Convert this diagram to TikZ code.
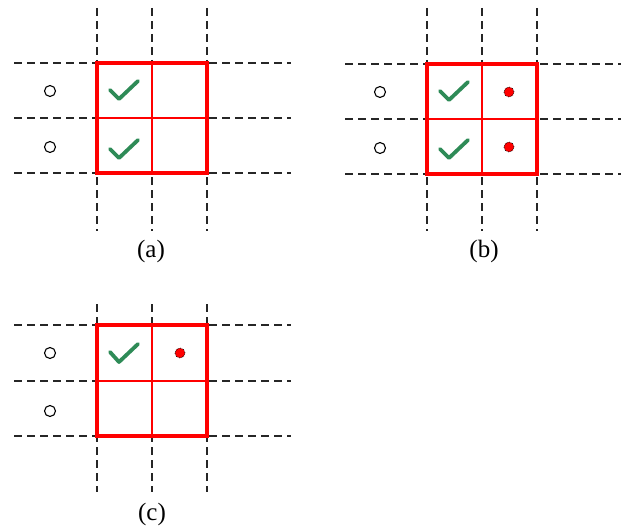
\documentclass[tikz,border=0pt]{standalone}
\usepackage{fontspec}
\setmainfont{Liberation Serif}
\begin{document}
\begin{tikzpicture}[x=1pt,y=-1pt,
  gridline/.style={black!85,line width=1.1pt,dash pattern=on 8pt off 5pt},
  frame/.style={red,line width=3.6pt,line join=miter},
  inner/.style={red,line width=1.6pt},
  tick/.style={color={rgb,255:red,46;green,139;blue,87},line width=3.8pt,line cap=round,line join=round},
  hole/.style={circle,draw=black,line width=1.1pt,minimum size=11pt,inner sep=0pt},
  dot/.style={circle,fill=red,draw=black,densely dotted,line width=0.7pt,minimum size=10pt,inner sep=0pt},
  caption/.style={font=\fontsize{25}{30}\selectfont}]
\useasboundingbox (0,0) rectangle (624,527);
% panel (a)
\begin{scope}
  \foreach \x in {97,152,207} \draw[gridline] (\x,8) -- (\x,231);
  \foreach \y in {63,118,173} \draw[gridline] (14,\y) -- (291,\y);
  \draw[inner] (152,63) -- (152,173) (97,118) -- (207,118);
  \draw[frame] (97,63) rectangle (207,173);
  \node[hole] (a1) at (50,91) {};
  \node[hole] (a2) at (50,147) {};
  \draw[tick] (110,90) -- (119,99) -- (138,81);
  \draw[tick] (110,149) -- (119,158) -- (138,140);
  \node[caption] (la) at (151,251) {(a)};
\end{scope}
% panel (b)
\begin{scope}[xshift=330pt]
  \foreach \x in {97,152,207} \draw[gridline] (\x,8) -- (\x,231);
  \foreach \y in {64,119,174} \draw[gridline] (15,\y) -- (291,\y);
  \draw[inner] (152,64) -- (152,174) (97,119) -- (207,119);
  \draw[frame] (97,64) rectangle (207,174);
  \node[hole] (b1) at (50,92) {};
  \node[hole] (b2) at (50,148) {};
  \draw[tick] (110,91) -- (119,100) -- (138,82);
  \draw[tick] (110,149) -- (119,158) -- (138,140);
  \node[dot] (b3) at (179,92) {};
  \node[dot] (b4) at (179,147) {};
  \node[caption] (lb) at (154,251) {(b)};
\end{scope}
% panel (c)
\begin{scope}[yshift=-300pt]
  \foreach \x in {97,152,207} \draw[gridline] (\x,4) -- (\x,192);
  \foreach \y in {25,81,136} \draw[gridline] (14,\y) -- (291,\y);
  \draw[inner] (152,25) -- (152,136) (97,81) -- (207,81);
  \draw[frame] (97,25) rectangle (207,136);
  \node[hole] (c1) at (50,53) {};
  \node[hole] (c2) at (50,111) {};
  \draw[tick] (110,52) -- (119,62) -- (138,44);
  \node[dot] (c3) at (180,53) {};
  \node[caption] (lc) at (152,214) {(c)};
\end{scope}
\end{tikzpicture}
\end{document}
